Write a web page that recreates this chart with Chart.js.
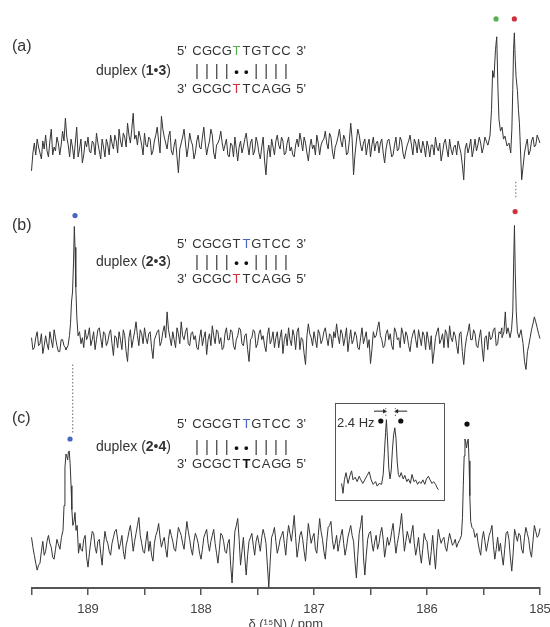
<!DOCTYPE html>
<html>
<head>
<meta charset="utf-8">
<script src="https://cdn.jsdelivr.net/npm/chart.js@4.4.0/dist/chart.umd.min.js"></script>
<style>
  body { margin: 0; background: #fff; }
  #wrap { position: relative; width: 550px; height: 627px; overflow: hidden;
          font-family: "Liberation Sans", Arial, sans-serif; color: #333; }
  #main { position: absolute; left: 0; top: 0; }
  .t { position: absolute; white-space: nowrap; line-height: 1; transform: translateY(-50%); }
  .lab { font-size: 16px; left: 12px; }
  .dup { font-size: 14px; left: 96px; }
  .seq { font-size: 13px; left: 177px; }
  .seq span { display: inline-block; text-align: center; }
  .seq .p { width: 15px; text-align: left; }
  .seq .c { width: 9.9px; }
  .seq .s { width: 15px; text-align: right; }
  .bar { font-size: 17px; color: #555; }
  .dot { font-size: 13px; font-weight: bold; color: #111; }
  #inset { position: absolute; left: 335px; top: 403px; width: 108px; height: 96px;
           border: 1px solid #555; background: #fff; }
  .hz { font-size: 13px; left: 337px; top: 422px; }
</style>
</head>
<body>
<div id="wrap">
  <canvas id="main" width="550" height="627"></canvas>
  <div id="inset"><canvas id="insetChart" width="108" height="96"></canvas></div>
  <div id="text"></div>
  <div class="t hz">2.4 Hz</div>
</div>
<script>
// grid of the noise traces: 189.5 ppm down to 185.0 ppm
const ppmStart = 189.5;
const ppmStep = 0.025;

// baseline noise on the grid (181 values each)
const noiseA = [
  -22, 6, 10, -4, 8, 14, -8, 20, 2, 12,
  -6, 18, 31, 4, 10, -10, 22, 0, -14, 8,
  12, -4, 6, 16, -2, 10, -8, 4, 14, 0,
  8, 20, 2, 12, 26, 6, 36, 14, 18, 4,
  16, 2, 10, -2, 14, 8, 33, 12, 0, 18,
  -6, 10, -24, 6, 20, -8, 16, 4, -4, 14,
  0, 22, -6, 8, 14, -10, 6, 18, -2, 10,
  -8, 4, 12, -12, 8, 2, 16, -6, 10, -2,
  6, -10, 12, -26, 4, 10, -6, 14, 0, 8,
  -4, 12, 2, -8, 10, 16, -2, 6, -12, 10,
  4, 14, -6, 8, 18, 0, 12, -10, 6, 20,
  2, 10, -4, 26, -26, 8, 14, -2, 10, 4,
  -8, 12, 6, -4, 10, -14, 8, 2, -6, 12,
  0, 8, -10, 4, 14, -6, 6, 10, -4, 2,
  8, -8, 4, 12, -2, -12, 6, 0, 10, -6,
  4, 8, -4, -31, 6, 2, -8, 10, 4, 6,
  2, 8, 14, 79, 100, 30, 18, 10, 3, -4,
  20, 117, 59, 0, -18, 4, -6, 8, 2, 14, 6
];
// wiggles between the grid points (180 values each)
const midA = [
  -4, -6, 2, -10, 0, -2, 8, -6, -2, 6,
  4, 8, 12, -8, 2, 6, -8, 10, -6, 2,
  -2, 8, -6, 6, -10, 2, 10, -6, 6, 14,
  -4, 8, 16, 2, 14, 20, 10, 4, 12, -6,
  4, 12, -6, 8, 22, -4, 20, 6, 12, -2,
  4, -8, 0, 12, 6, 2, 8, -10, 8, 2,
  12, 6, 2, 20, -4, 4, 10, 6, 4, -6,
  6, -8, 0, 2, -4, 10, 4, 6, -6, 12,
  -4, 2, -12, -4, -8, 2, 8, 4, 12, -6,
  6, -2, -6, 4, 2, 8, 12, -4, 2, 0,
  -6, 6, 4, 10, 6, 16, -2, 2, 12, 8,
  14, -6, 8, 10, -6, 20, 4, 6, -6, 10,
  4, -2, 8, 6, -4, 0, 10, -8, 4, -2,
  12, -4, -2, 8, 4, 10, -4, 0, 8, -8,
  2, 4, -6, 2, 6, -4, 10, -8, 0, 2,
  -6, 2, -16, 0, -4, 10, 0, -2, 12, -4,
  12, 4, 60, 90, 60, 24, 14, 6, 0, 8,
  80, 90, 30, -20, -8, 10, -2, 12, 4, 10
];
const noiseB = [
  4, -6, 10, -2, -12, 6, -8, 2, 12, -4,
  -10, 2, -6, -2, 30, 110, 20, 8, 4, 12,
  6, -4, 10, 2, 14, -6, 8, 0, 12, -14,
  4, 10, -8, 6, -20, 12, 2, 20, -4, 8,
  14, -2, 10, -17, 6, 12, 0, 16, 30, 4,
  10, -6, 8, 20, 2, 14, -4, 10, 6, -8,
  12, 4, -13, 8, 16, -2, 10, 4, -6, 14,
  2, 10, -8, 6, 12, -4, 8, -20, 4, 10,
  -2, 12, 6, -10, 14, 2, -6, 10, 4, -12,
  8, 14, -4, 6, 10, -8, 2, -23, 18, 4,
  10, -6, 8, 2, 14, -4, 6, 10, 18, -2,
  8, 4, -10, 12, 2, 6, -8, 14, 4, -6,
  -22, 10, 6, 20, 2, -4, 12, 8, -8, 10,
  4, 14, -2, 6, -10, 8, 2, 12, -4, 6,
  10, -8, -22, 4, 14, 2, -6, 8, 16, 0,
  6, -12, 10, -23, 4, 18, 2, 8, -6, 12,
  -20, 6, 10, 4, 14, -2, 8, 20, 10, 60,
  20, 6, 4, -20, -10, 2, -4, 12, 25, 14, 3
];
const midB = [
  -8, 4, -4, 8, -4, -2, 10, -6, 4, -10,
  2, -4, 4, 10, 60, 60, 12, 4, -6, 2,
  14, 2, -8, 12, 4, 10, -4, 8, -2, 6,
  -6, 2, 12, -10, 4, -6, 10, 6, 12, -2,
  4, 8, -6, 2, 10, -4, 10, 4, 12, -4,
  2, 14, -2, 6, 10, -2, 8, 2, -6, 4,
  -4, 10, 2, -4, 6, 12, -2, -8, 8, 2,
  12, -4, 2, 14, -2, 6, -8, 2, 12, -6,
  8, 2, -4, 6, -2, 10, 4, -6, 12, 2,
  -4, 2, 12, -8, 14, 4, -12, 6, 8, -4,
  2, 12, -2, 10, 4, 8, -6, 4, 6, 12,
  -4, 14, 2, -2, 10, -6, 4, -2, 10, 2,
  -8, 4, 14, 6, -6, 8, 2, -4, 14, 2,
  -6, 8, 10, -4, 2, 12, -6, 4, 10, -8,
  2, 6, -10, 10, -2, 8, 12, -6, 4, 10,
  -4, 8, -10, -6, 10, 2, 12, -4, 4, -6,
  4, -8, 2, 12, -4, 10, 14, 20, 20, 40,
  10, 0, -10, -20, -10, -8, 4, 18, 20, 8
];
const noiseC = [
  8, -10, -25, -18, 4, -6, 10, -2, -14, 6,
  0, 10, 60, 90, 90, 40, 25, 5, -6, 10,
  -22, 4, 12, -8, 6, -20, 14, 2, -10, 8,
  16, -4, 10, -14, 6, 20, -6, 12, 28, 2,
  -8, 14, 4, -16, 10, 22, -2, 8, -12, 16,
  4, -6, 18, 10, -4, 24, 6, -10, 12, 2,
  -14, 8, 16, -6, 10, 2, -18, 12, 4, -8,
  6, -38, 14, 27, -20, 8, -30, 4, 12, -10,
  10, -6, 16, 2, -42, 8, 18, -8, 6, 14,
  -10, 20, 4, 30, -12, 10, 6, -16, 22, 2,
  12, -8, 27, 6, -14, 18, 24, -4, 10, 2,
  16, -10, 8, 20, 4, -33, 12, 30, -30, 6,
  14, -6, 10, 2, 18, -12, 8, 4, 22, -8,
  10, 32, -6, 14, 2, 20, -10, 8, -18, 12,
  4, -20, 10, -24, 16, 2, 8, -6, 12, 0,
  6, -8, 20, 100, 100, 30, 16, 10, 4, -10,
  14, -6, 10, 20, -14, 8, 2, -20, 12, 6,
  -26, 16, 4, 10, -8, 18, 6, -12, 20, 8, 17
];
const midC = [
  -2, -18, -20, -6, -10, 4, 2, -12, -4, 0,
  5, 40, 90, 90, 80, 30, 20, -4, 6, -12,
  -8, 14, -2, 4, -8, 0, 6, -6, 2, 14,
  6, 2, -6, 0, 14, 8, 4, 20, 10, -6,
  4, -6, -10, 2, 14, 8, 4, -4, 6, 10,
  -4, 6, 14, 2, 10, 14, -4, 4, 8, -8,
  -4, 12, 2, 4, 16, -8, -4, 10, -6, 2,
  -20, -10, 20, 6, -6, -12, -10, 8, 0, 4,
  2, 8, 10, -20, -16, 12, 4, -2, 10, 2,
  8, 12, 16, 8, -2, 14, -6, 4, 12, 8,
  -4, 10, 14, -6, 4, 20, 6, 2, -6, 10,
  2, -2, 14, 10, -16, -10, 20, -12, -10, 12,
  2, 4, -4, 12, 6, -2, 0, 14, 6, 2,
  20, 12, 4, 8, 12, 2, -2, -8, -4, 6,
  -10, -6, -8, -2, 8, 6, -2, 4, 6, 2,
  -2, 4, 60, 100, 90, 24, 12, 10, -4, 6,
  4, 2, 14, 0, -4, -6, -10, -4, 14, -12,
  -8, 10, 12, -4, 8, 12, -6, 4, 14, 10
];

// resolved peaks [ppm, intensity]
const peaksA = [
  [185.460, 4], [185.442, 14], [185.429, 40], [185.419, 79], [185.407, 72],
  [185.394, 100], [185.383, 113], [185.372, 60], [185.363, 30], [185.350, 18],
  [185.336, 22], [185.323, 10], [185.310, 13], [185.292, 3], [185.274, 6],
  [185.259, -4], [185.249, 20], [185.241, 60], [185.234, 100], [185.227, 117],
  [185.219, 90], [185.212, 73], [185.200, 59], [185.191, 40], [185.182, 26],
  [185.173, 0], [185.162, -31], [185.150, -18], [185.137, -4]
];
const peaksB1 = [
  [189.195, -8], [189.177, -4], [189.164, 6], [189.155, 18], [189.146, 40],
  [189.137, 50], [189.128, 80], [189.121, 116], [189.115, 95], [189.108, 55],
  [189.099, 25], [189.088, 6], [189.075, 10], [189.062, -2]
];
const peaksB2 = [
  [185.336, 4], [185.319, 10], [185.307, 30], [185.296, 8], [185.283, 14],
  [185.265, 4], [185.252, 12], [185.241, 30], [185.233, 80], [185.226, 117],
  [185.219, 70], [185.210, 30], [185.200, 10], [185.186, 4], [185.168, 12],
  [185.150, -2], [185.137, -20], [185.124, -28], [185.111, -10]
];
const peaksC1 = [
  [189.265, 2], [189.248, -4], [189.235, 8], [189.221, 15], [189.212, 40],
  [189.204, 78], [189.195, 92], [189.188, 90], [189.180, 86], [189.173, 94],
  [189.166, 95], [189.158, 82], [189.150, 60], [189.143, 36], [189.134, 20],
  [189.124, 24], [189.115, 33], [189.106, 15], [189.096, 20], [189.084, -8],
  [189.071, 2]
];
const peaksC2 = [
  [185.726, 2], [185.708, 6], [185.695, 10], [185.686, 28], [185.679, 60],
  [185.671, 90], [185.664, 107], [185.657, 104], [185.650, 98], [185.643, 104],
  [185.635, 107], [185.628, 85], [185.621, 50], [185.613, 24], [185.602, 18],
  [185.588, 16], [185.575, 8], [185.558, 12]
];

// peak labels (dots above peaks) [ppm, height]
const marksA = [[185.389, 131], [185.227, 131]];
const marksB = [[189.115, 127], [185.220, 131]];
const marksC = [[189.159, 107], [185.646, 122]];

// dotted guide lines [ppm, height]
const linkAB = [[185.214, -33], [185.214, -50]];
const linkBC = [[189.135, -23], [189.135, -92]];

// inset: expanded peak of (c), x in Hz
const insetHz = [0.4, 0.75, 1.1, 1.5, 2.0, 2.5, 2.9, 3.25, 3.8, 4.3, 4.8, 5.2, 5.7, 6.3, 6.8,
  7.3, 7.8, 8.3, 8.9, 9.3, 9.8, 10.4, 10.8, 11.1, 11.4, 11.6, 11.9, 12.2, 12.5, 12.8,
  13.1, 13.4, 13.7, 14.0, 14.3, 14.6, 14.9, 15.3, 15.8, 16.2, 16.7, 17.1, 17.6, 18.0,
  18.5, 18.9, 19.4, 19.8, 20.3, 20.7, 21.2, 21.6, 22.1, 22.5, 23.0, 23.4, 23.9, 24.3, 24.6];
const insetVal = [14, 3, 18, 26, 14, 23, 28, 18, 21, 16, 22, 18, 14, 19, 23,
  27, 18, 13, 16, 11, 14, 13, 24, 48, 71, 85, 61, 31, 19, 28,
  51, 68, 76, 64, 38, 24, 21, 26, 19, 23, 16, 19, 14, 24,
  16, 18, 13, 16, 14, 18, 13, 19, 22, 18, 14, 16, 13, 9, 7];
const insetMarks = [[10.2, 83.5], [15.2, 83.5]];
const insetSplit = [11.45, 13.85];

// vertical offsets of the three traces (chart units)
const offA = 442, offB = 248, offC = 43;

const GREEN = 'rgb(86,178,80)', RED = 'rgb(208,48,62)', BLUE = 'rgb(72,102,190)', INK = '#353535';
const FONT = '"Liberation Sans", Arial, sans-serif';

function buildTrace(noise, mids, peakLists, off) {
  const wins = peakLists.map(p => [Math.min(...p.map(q => q[0])), Math.max(...p.map(q => q[0]))]);
  const free = x => !wins.some(w => x >= w[0] - 1e-6 && x <= w[1] + 1e-6);
  const pts = [];
  noise.forEach((v, i) => {
    const x = ppmStart - i * ppmStep;
    if (free(x)) pts.push({ x: x, y: v + off });
  });
  mids.forEach((v, i) => {
    const x = ppmStart - (i + 0.5) * ppmStep;
    if (free(x)) pts.push({ x: x, y: v + off });
  });
  peakLists.forEach(p => p.forEach(q => pts.push({ x: q[0], y: q[1] + off })));
  pts.sort((a, b) => b.x - a.x);
  return pts;
}
const shift = (arr, off) => arr.map(q => ({ x: q[0], y: q[1] + off }));

function traceSet(data) {
  return { data, borderColor: INK, borderWidth: 1, pointRadius: 0, tension: 0, clip: false };
}
function markSet(data, colors) {
  return { data, showLine: false, pointRadius: 2.6, pointBackgroundColor: colors,
           pointBorderWidth: 0, clip: false };
}
function linkSet(data) {
  return { data, borderColor: '#666', borderWidth: 1, borderDash: [1.5, 2], pointRadius: 0, clip: false };
}

new Chart(document.getElementById('main'), {
  type: 'line',
  data: {
    datasets: [
      traceSet(buildTrace(noiseA, midA, [peaksA], offA)),
      traceSet(buildTrace(noiseB, midB, [peaksB1, peaksB2], offB)),
      traceSet(buildTrace(noiseC, midC, [peaksC1, peaksC2], offC)),
      markSet(shift(marksA, offA), [GREEN, RED]),
      markSet(shift(marksB, offB), [BLUE, RED]),
      markSet(shift(marksC, offC), [BLUE, '#111']),
      linkSet(shift(linkAB, offA)),
      linkSet(shift(linkBC, offB))
    ]
  },
  options: {
    responsive: false,
    animation: false,
    layout: { padding: { left: 31.5, right: 10, top: 0, bottom: 0 } },
    plugins: { legend: { display: false }, tooltip: { enabled: false } },
    scales: {
      x: {
        type: 'linear', reverse: true, min: 185, max: 189.5,
        // fixed axis height, and let the end labels hang over the edges
        afterFit: s => { s.height = 39; s.paddingLeft = 0; s.paddingRight = 0; },
        ticks: {
          stepSize: 0.5, autoSkip: false, maxRotation: 0, padding: 7, color: '#444',
          font: { size: 13, family: FONT },
          callback: v => Number.isInteger(v) ? String(v) : ''
        },
        grid: { drawOnChartArea: false, tickLength: 7, color: '#555', lineWidth: 1.5 },
        border: { color: '#555', width: 2 },
        title: { display: true, text: 'δ (¹⁵N) / ppm', color: '#444',
                 font: { size: 13, family: FONT }, padding: { top: 0, bottom: -5 } }
      },
      y: { display: false, min: 0, max: 588 }
    }
  }
});

// inset chart
const insetData = insetHz.map((h, i) => ({ x: h, y: insetVal[i] }));
const splitLines = insetSplit.map(h => [{ x: h, y: 89 }, { x: h, y: 98 }]);
new Chart(document.getElementById('insetChart'), {
  type: 'line',
  data: {
    datasets: [
      traceSet(insetData),
      markSet(insetMarks.map(q => ({ x: q[0], y: q[1] })), ['#111', '#111']),
      linkSet(splitLines[0]),
      linkSet(splitLines[1]),
      { data: [{ x: 8.5, y: 94.5 }, { x: 11.1, y: 94.5 }], borderColor: '#222', borderWidth: 1,
        pointRadius: [0, 2.6], pointStyle: 'triangle', pointRotation: 90,
        pointBackgroundColor: '#222', pointBorderWidth: 0, clip: false },
      { data: [{ x: 16.8, y: 94.5 }, { x: 14.2, y: 94.5 }], borderColor: '#222', borderWidth: 1,
        pointRadius: [0, 2.6], pointStyle: 'triangle', pointRotation: -90,
        pointBackgroundColor: '#222', pointBorderWidth: 0, clip: false }
    ]
  },
  options: {
    responsive: false,
    animation: false,
    layout: { padding: 0 },
    plugins: { legend: { display: false }, tooltip: { enabled: false } },
    scales: {
      x: { type: 'linear', display: false, min: 0, max: 25 },
      y: { display: false, min: 0, max: 98 }
    }
  }
});

// duplex annotations
const topStrand = 'CGCGTTGTCC';
const botStrand = 'GCGCTTCAGG';
const pairing = '||||••||||';
const panels = [
  { label: '(a)', ly: 46, a: '1', b: '3', y1: 50, y2: 70, y3: 88,
    topHi: 4, topStyle: 'color:' + GREEN, botHi: 4, botStyle: 'color:' + RED },
  { label: '(b)', ly: 225, a: '2', b: '3', y1: 243, y2: 261, y3: 278,
    topHi: 5, topStyle: 'color:' + BLUE, botHi: 4, botStyle: 'color:' + RED },
  { label: '(c)', ly: 418, a: '2', b: '4', y1: 423, y2: 446, y3: 463,
    topHi: 5, topStyle: 'color:' + BLUE, botHi: 5, botStyle: 'font-weight:bold;color:#111' }
];
function row(pre, letters, suf, hi, style) {
  let h = '<span class="p">' + pre + '</span>';
  [...letters].forEach((c, i) => {
    let cls = 'c';
    const st = i === hi ? ' style="' + style + '"' : '';
    if (c === '|') cls += ' bar';
    if (c === '•') cls += ' dot';
    h += '<span class="' + cls + '"' + st + '>' + c + '</span>';
  });
  return h + '<span class="s">' + suf + '</span>';
}
let html = '';
panels.forEach(p => {
  html += '<div class="t lab" style="top:' + p.ly + 'px">' + p.label + '</div>';
  html += '<div class="t dup" style="top:' + p.y2 + 'px">duplex (<b>' + p.a + '</b>•<b>' + p.b + '</b>)</div>';
  html += '<div class="t seq" style="top:' + p.y1 + 'px">' + row("5'", topStrand, "3'", p.topHi, p.topStyle) + '</div>';
  html += '<div class="t seq" style="top:' + p.y2 + 'px">' + row('', pairing, '', -1, '') + '</div>';
  html += '<div class="t seq" style="top:' + p.y3 + 'px">' + row("3'", botStrand, "5'", p.botHi, p.botStyle) + '</div>';
});
document.getElementById('text').innerHTML = html;
</script>
</body>
</html>
